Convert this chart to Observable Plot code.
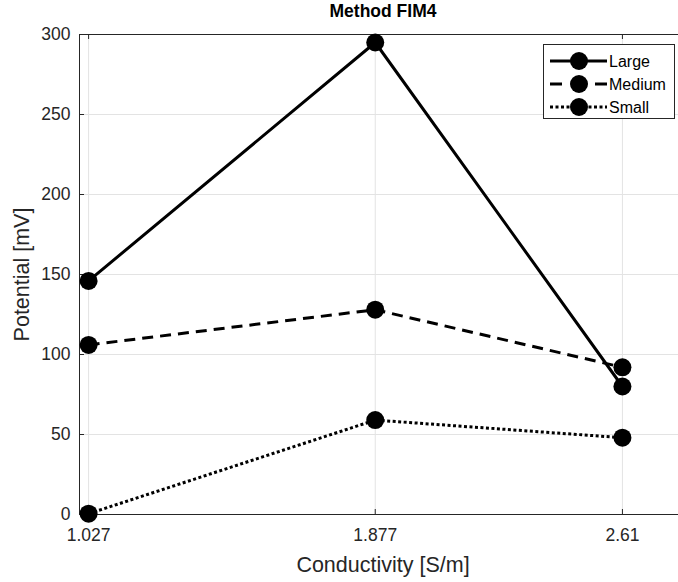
<!DOCTYPE html>
<html>
<head>
<meta charset="utf-8">
<script src="https://cdn.jsdelivr.net/npm/d3@7"></script>
<script src="https://cdn.jsdelivr.net/npm/@observablehq/plot@0.6"></script>
<style>
  html, body { margin: 0; padding: 0; overflow: hidden; background: #fff; }
  #chart { width: 678px; height: 582px; overflow: hidden; }
</style>
</head>
<body>
<div id="chart"></div>
<script>
const title = "Method FIM4";
const xLabel = "Conductivity [S/m]";
const yLabel = "Potential [mV]";
const conductivity = [1.027, 1.877, 2.61];
const xTickLabels = ["1.027", "1.877", "2.61"];
const yTicks = [0, 50, 100, 150, 200, 250, 300];
const xDomain = [1, 2.8];
const yDomain = [0, 300];
const seriesNames = ["Large", "Medium", "Small"];
const large = [146, 295, 80];
const medium = [106, 128, 92];
const small = [0.5, 59, 48];

const dashes = {Large: null, Medium: "11,7", Small: "3,2.5"};
const legendDashes = {Large: null, Medium: "12,33", Small: "3,2.5"};
const seriesValues = {Large: large, Medium: medium, Small: small};

const rows = seriesNames.flatMap(name =>
  conductivity.map((c, i) => ({series: name, x: c, y: seriesValues[name][i]})));

const FONT = "'Liberation Sans', Arial, Helvetica, sans-serif";
const AX = "#262626";

const marks = [
  Plot.gridX(conductivity, {stroke: "#e3e3e3", strokeOpacity: 1}),
  Plot.gridY(yTicks, {stroke: "#e3e3e3", strokeOpacity: 1}),
  // inward ticks (bottom, top, left)
  Plot.gridX(conductivity, {stroke: AX, strokeOpacity: 1, insetTop: 475}),
  Plot.gridX(conductivity, {stroke: AX, strokeOpacity: 1, insetBottom: 475}),
  Plot.gridY(yTicks, {stroke: AX, strokeOpacity: 1, insetRight: 602}),
  Plot.frame({stroke: AX}),
  ...seriesNames.map(name =>
    Plot.line(rows.filter(d => d.series === name), {
      x: "x", y: "y", stroke: "black", strokeWidth: 3,
      strokeDasharray: dashes[name], strokeLinecap: "butt", strokeLinejoin: "miter"
    })),
  ...seriesNames.map(name =>
    Plot.dot(rows.filter(d => d.series === name), {x: "x", y: "y", r: 9, fill: "black", stroke: null})),
  Plot.axisX(conductivity, {
    tickSize: 0, tickPadding: 14, fontSize: 17.5, fill: AX,
    tickFormat: (d, i) => xTickLabels[i], label: null
  }),
  Plot.axisY(yTicks, {
    tickSize: 0, tickPadding: 9, fontSize: 17.5, fill: AX, label: null
  }),
  Plot.text([title], {frameAnchor: "top", lineAnchor: "middle", textAnchor: "middle", dy: -23, fontWeight: "bold", fontSize: 17.5, fill: "black"}),
  Plot.text([xLabel], {frameAnchor: "bottom", lineAnchor: "middle", textAnchor: "middle", dy: 51, fontSize: 21.5, fill: AX}),
  Plot.text([yLabel], {frameAnchor: "left", lineAnchor: "middle", textAnchor: "middle", dx: -57, rotate: -90, fontSize: 21.5, fill: AX})
];

const chart = Plot.plot({
  width: 686,
  height: 582,
  marginLeft: 79,
  marginRight: 0,
  marginTop: 34,
  marginBottom: 68,
  x: {domain: xDomain, axis: null},
  y: {domain: yDomain, axis: null},
  style: {fontFamily: FONT, maxWidth: "none", overflow: "hidden", background: "white"},
  marks
});

// Legend
const svg = d3.select(chart);
const lg = svg.append("g");
lg.append("rect")
  .attr("x", 543.5).attr("y", 44.5).attr("width", 131).attr("height", 74)
  .attr("fill", "white").attr("stroke", AX).attr("stroke-width", 1);
seriesNames.forEach((name, i) => {
  const y = 61 + i * 23;
  lg.append("line")
    .attr("x1", 550).attr("x2", 607).attr("y1", y).attr("y2", y)
    .attr("stroke", "black").attr("stroke-width", 3)
    .attr("stroke-linecap", "butt")
    .attr("stroke-dasharray", legendDashes[name]);
  lg.append("circle").attr("cx", 579).attr("cy", y).attr("r", 9).attr("fill", "black");
  lg.append("text").attr("x", 609).attr("y", y).attr("dy", "0.35em")
    .attr("text-anchor", "start")
    .attr("font-size", 16).attr("font-family", FONT).attr("fill", "black")
    .text(name);
});

document.getElementById("chart").appendChild(chart);
</script>
</body>
</html>
